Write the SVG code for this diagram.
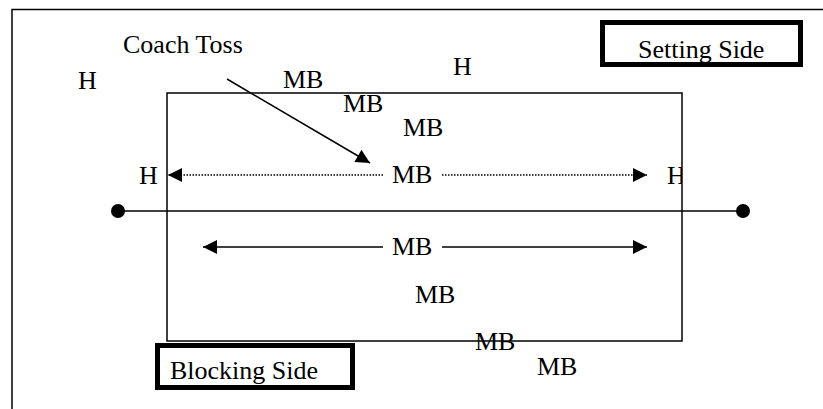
<svg xmlns="http://www.w3.org/2000/svg" width="823" height="409" viewBox="0 0 823 409">
<style>
text{font-family:"Liberation Serif","Times New Roman",serif;font-size:26px;fill:#000}
.thin{fill:none;stroke:#000;stroke-width:1.5}
.dot{fill:none;stroke:#000;stroke-width:1.3;stroke-dasharray:1.5 1.5}
.box{fill:#fff;stroke:#000;stroke-width:5}
</style>
<defs>
<marker id="ah" viewBox="0 0 10 10" refX="10" refY="5" markerWidth="15" markerHeight="14" markerUnits="userSpaceOnUse" orient="auto">
<path d="M0,0 L10,5 L0,10 Z" fill="#000"/>
</marker>
<clipPath id="clipH"><rect x="600" y="150" width="82" height="50"/></clipPath>
</defs>
<g id="frame"><path class="thin" d="M12,409 V9.5 H823"/></g>
<g id="court"><rect class="thin" x="167" y="93" width="515" height="248"/></g>
<g id="net">
<line class="thin" x1="118" y1="211" x2="743" y2="211"/>
<circle cx="118" cy="211" r="7"/>
<circle cx="743" cy="211" r="7"/>
</g>
<g id="connectors">
<line class="thin" x1="227" y1="79" x2="370" y2="163" marker-end="url(#ah)"/>
<line class="dot" x1="383" y1="175" x2="168" y2="175" marker-end="url(#ah)"/>
<line class="dot" x1="442" y1="175" x2="647" y2="175" marker-end="url(#ah)"/>
<line class="thin" x1="383" y1="247" x2="203" y2="247" marker-end="url(#ah)"/>
<line class="thin" x1="442" y1="247" x2="647" y2="247" marker-end="url(#ah)"/>
</g>
<g id="setting-side"><rect class="box" x="602.5" y="22.5" width="198" height="42"/><text x="638" y="58">Setting Side</text></g>
<g id="blocking-side"><rect class="box" x="157.5" y="345.5" width="195" height="42"/><text x="170" y="379">Blocking Side</text></g>
<g id="coach"><text x="123" y="53">Coach Toss</text></g>
<g id="labels">
<text x="78" y="89">H</text>
<text x="453" y="75">H</text>
<text x="283" y="88">MB</text>
<text x="343" y="112">MB</text>
<text x="403" y="136">MB</text>
<text x="139" y="184">H</text>
<text x="392" y="183">MB</text>
<text x="667" y="184" clip-path="url(#clipH)">H</text>
<text x="392" y="255">MB</text>
<text x="415" y="303">MB</text>
<text x="475" y="350">MB</text>
<text x="537" y="375">MB</text>
</g>
</svg>
